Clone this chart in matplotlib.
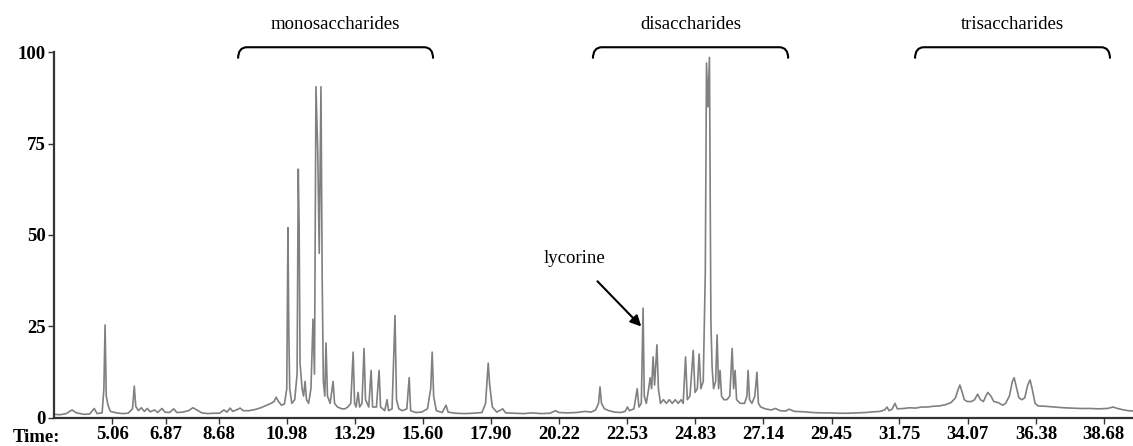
import matplotlib
matplotlib.use('Agg')
import matplotlib.pyplot as plt
from matplotlib.path import Path
from matplotlib.patches import PathPatch

# chromatogram trace: retention time (min), relative intensity (%)
times = [3.09, 3.3, 3.5, 3.7, 3.85, 4.1, 4.3, 4.45, 4.55, 4.72, 4.78, 4.82, 4.86, 4.92, 5.0,
         5.2, 5.4, 5.6, 5.75, 5.81, 5.86, 5.95, 6.05, 6.15, 6.25, 6.35, 6.5, 6.6, 6.75, 6.85,
         7.0, 7.15, 7.25, 7.45, 7.65, 7.8, 7.95, 8.1, 8.3, 8.5, 8.7, 8.85, 8.95, 9.06, 9.15,
         9.3, 9.4, 9.5, 9.7, 9.9, 10.1, 10.3, 10.45, 10.55, 10.62, 10.7, 10.8, 10.9, 10.98, 11.02,
         11.05, 11.08, 11.15, 11.25, 11.33, 11.37, 11.40, 11.43, 11.5, 11.55, 11.6, 11.65, 11.72, 11.8, 11.87,
         11.92, 11.97, 12.03, 12.08, 12.14, 12.18, 12.22, 12.27, 12.31, 12.36, 12.45, 12.55, 12.6, 12.7, 12.85,
         12.95, 13.05, 13.15, 13.23, 13.28, 13.33, 13.4, 13.45, 13.53, 13.6, 13.65, 13.76, 13.84, 13.89, 14.02,
         14.11, 14.16, 14.3, 14.38, 14.43, 14.55, 14.65, 14.7, 14.78, 14.9, 15.05, 15.13, 15.18, 15.35, 15.55,
         15.75, 15.86, 15.91, 15.96, 16.05, 16.25, 16.38, 16.45, 16.7, 17.0, 17.3, 17.6, 17.72, 17.81, 17.86,
         17.95, 18.1, 18.3, 18.4, 18.7, 19.0, 19.3, 19.6, 19.9, 20.1, 20.2, 20.5, 20.8, 21.1, 21.3,
         21.45, 21.55, 21.6, 21.65, 21.75, 21.9, 22.1, 22.3, 22.45, 22.53, 22.6, 22.75, 22.86, 22.92, 23.0,
         23.06, 23.1, 23.17, 23.25, 23.3, 23.35, 23.4, 23.45, 23.53, 23.58, 23.65, 23.75, 23.85, 23.95, 24.05,
         24.15, 24.25, 24.35, 24.42, 24.5, 24.56, 24.65, 24.76, 24.82, 24.9, 24.96, 25.02, 25.1, 25.17, 25.21,
         25.26, 25.31, 25.36, 25.4, 25.45, 25.52, 25.57, 25.62, 25.67, 25.72, 25.8, 25.9, 26.0, 26.08, 26.13,
         26.18, 26.23, 26.35, 26.5, 26.58, 26.62, 26.67, 26.75, 26.85, 26.92, 26.97, 27.05, 27.2, 27.4, 27.55,
         27.7, 27.9, 28.0, 28.2, 28.5, 28.8, 29.1, 29.4, 29.7, 30.0, 30.3, 30.6, 30.9, 31.1, 31.25,
         31.33, 31.4, 31.5, 31.6, 31.68, 31.9, 32.1, 32.3, 32.5, 32.7, 32.9, 33.1, 33.3, 33.5, 33.65,
         33.75, 33.8, 33.88, 33.95, 34.05, 34.2, 34.3, 34.4, 34.5, 34.6, 34.68, 34.75, 34.85, 34.95, 35.1,
         35.25, 35.35, 35.48, 35.58, 35.64, 35.7, 35.8, 35.9, 36.0, 36.1, 36.18, 36.25, 36.35, 36.45, 36.7,
         37.0, 37.3, 37.6, 37.9, 38.2, 38.5, 38.8, 39.0, 39.1, 39.3, 39.5, 39.67]
intensity = [1.0, 0.9, 1.2, 2.2, 1.4, 1.0, 1.1, 2.6, 1.2, 1.4, 8, 25.4, 6, 3.5, 1.8,
             1.4, 1.2, 1.3, 2.5, 8.7, 3.2, 2.0, 2.8, 1.8, 2.6, 1.7, 2.2, 1.5, 2.6, 1.6,
             1.5, 2.5, 1.5, 1.6, 2.0, 2.8, 2.1, 1.4, 1.2, 1.3, 1.3, 2.2, 1.6, 2.7, 1.8,
             2.3, 2.7, 2.0, 2.0, 2.3, 2.8, 3.5, 4.0, 4.5, 5.7, 4.5, 3.5, 3.8, 8, 52,
             23, 8, 4, 5, 12, 68, 52, 15, 8, 6, 10, 5, 4, 8, 27,
             12, 90.5, 73, 45, 90.5, 39, 10, 6, 20.5, 6, 4, 10, 4, 3, 2.5,
             2.5, 3, 4, 18, 4, 3, 7, 3, 4, 19, 5, 3, 13, 3, 3,
             13, 3, 2, 5, 2, 2.5, 28, 5, 2.5, 2, 2.5, 11, 2, 1.5, 1.6,
             2.5, 8, 18, 6, 2, 1.5, 3.5, 1.6, 1.3, 1.2, 1.3, 1.5, 4, 15, 9,
             3, 1.6, 2.5, 1.4, 1.3, 1.2, 1.4, 1.2, 1.3, 2.0, 1.5, 1.4, 1.5, 1.8, 1.6,
             2.2, 4, 8.5, 4, 2.5, 2, 1.6, 1.5, 1.8, 3, 2, 2.5, 8, 3, 4,
             30, 6, 4, 8, 11, 8, 16.7, 9, 20, 8, 4, 5, 4, 5, 4,
             5, 4, 5, 4, 16.7, 5, 6, 18.5, 7, 8, 17.5, 8, 10, 40, 97,
             85, 98.5, 26, 14, 8, 10, 22.7, 8, 13, 6, 5, 5, 6, 19, 8,
             13, 5, 4, 4, 6, 13, 5, 4, 6, 12.5, 4, 3, 2.5, 2.2, 2.6,
             2.0, 1.9, 2.4, 1.8, 1.7, 1.5, 1.4, 1.4, 1.3, 1.3, 1.4, 1.5, 1.7, 1.8, 2.2,
             3, 2.0, 2.4, 4, 2.5, 2.6, 2.8, 2.7, 3.0, 3.0, 3.2, 3.3, 3.6, 4.2, 5.5,
             8, 9, 7, 5, 4.5, 4.5, 5, 6.5, 5, 4.5, 6, 7, 6, 4.5, 4.2,
             3.5, 4, 6, 10, 11, 9, 5.5, 5, 5.5, 9, 10.4, 8, 4, 3.3, 3.2,
             3.0, 2.8, 2.7, 2.6, 2.6, 2.5, 2.6, 3.0, 2.7, 2.3, 2.0, 1.9]

tick_times = [5.06, 6.87, 8.68, 10.98, 13.29, 15.60, 17.90, 20.22, 22.53, 24.83,
              27.14, 29.45, 31.75, 34.07, 36.38, 38.68]
tick_labels = ['5.06', '6.87', '8.68', '10.98', '13.29', '15.60', '17.90', '20.22', '22.53', '24.83',
               '27.14', '29.45', '31.75', '34.07', '36.38', '38.68']
y_ticks = [0, 25, 50, 75, 100]

groups = ['monosaccharides', 'disaccharides', 'trisaccharides']
group_start = [9.33, 21.36, 32.28]
group_end = [15.94, 27.98, 38.89]

lycorine_time = 23.0
lycorine_height = 25.0

serif = ['Liberation Serif', 'DejaVu Serif']

fig = plt.figure(figsize=(11.33, 4.46), dpi=100)
ax = fig.add_axes([0.0477, 0.0628, 0.9523, 0.8206])

ax.plot(times, intensity, color='#808080', lw=1.2)

ax.set_xlim(3.09, 39.67)
ax.set_ylim(0, 100)
ax.spines['top'].set_visible(False)
ax.spines['right'].set_visible(False)
for s in ['left', 'bottom']:
    ax.spines[s].set_linewidth(1.6)
    ax.spines[s].set_color('#333333')

ax.set_xticks(tick_times)
ax.set_xticklabels(tick_labels, family=serif, fontweight='bold', fontsize=13.5)
ax.set_yticks(y_ticks)
ax.set_yticklabels([str(v) for v in y_ticks], family=serif, fontweight='bold', fontsize=13.5)
ax.tick_params(axis='both', direction='out', length=4, width=1, color='#333333', pad=2)
fig.text(36 / 1133, 1 - 438 / 446, 'Time:', family=serif, fontweight='bold', fontsize=13.5,
         ha='center', va='center')

# brackets over the compound groups
for name, x0, x1 in zip(groups, group_start, group_end):
    r = 0.3
    verts = [(x0, 98.2), (x0, 101.3), (x0 + r, 101.3), (x1 - r, 101.3), (x1, 101.3), (x1, 98.2)]
    codes = [Path.MOVETO, Path.CURVE3, Path.CURVE3, Path.LINETO, Path.CURVE3, Path.CURVE3]
    ax.add_patch(PathPatch(Path(verts, codes), fill=False, lw=1.5, color='black', clip_on=False))
    ax.text((x0 + x1) / 2, 107.4, name, family=serif, fontsize=13.5, ha='center', va='center',
            clip_on=False)

ax.annotate('lycorine', xy=(lycorine_time, lycorine_height), xytext=(20.75, 43.7),
            family=serif, fontsize=13.5, ha='center', va='center',
            arrowprops=dict(arrowstyle='-|>', color='black', lw=1.5, mutation_scale=16,
                            shrinkA=12, shrinkB=0))

fig.savefig('out.png', dpi=100)
